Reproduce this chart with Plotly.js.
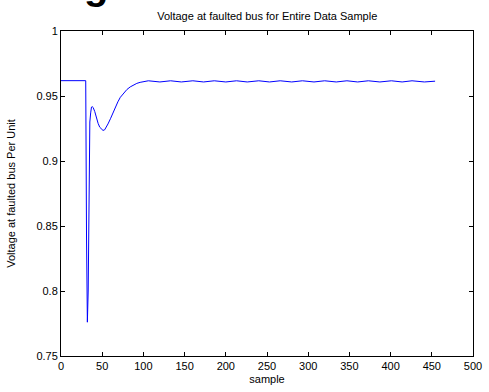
<!DOCTYPE html>
<html>
<head>
<meta charset="utf-8">
<script src="https://cdn.plot.ly/plotly-3.0.1.min.js"></script>
<style>html,body{margin:0;padding:0;background:#fff;}#chart{width:489px;height:392px;}</style>
</head>
<body>
<div id="chart"></div>
<script>
// sample index
const samples = [0, 30, 31, 32, 33, 34, 35, 36, 37, 38, 39, 41, 43, 45, 47, 49, 51, 53, 55, 57, 60, 63, 66, 69, 72, 76, 80, 84, 88, 92, 96, 100,
  106, 120, 133, 146, 160, 173, 186, 200, 213, 226, 240, 253, 266, 280, 293, 307, 320, 334, 347, 360, 373, 387, 401, 414, 426, 441, 454];
// voltage at faulted bus (per unit)
const voltage = [0.9618, 0.9618, 0.84, 0.776, 0.80, 0.90, 0.930, 0.937, 0.9415, 0.9418, 0.9412, 0.938, 0.933, 0.929, 0.926, 0.9243, 0.9235, 0.924, 0.9258, 0.9285, 0.9325, 0.937, 0.9415, 0.9455, 0.949, 0.952, 0.955, 0.957, 0.9585, 0.9597, 0.9605, 0.961,
  0.9617, 0.9608, 0.9617, 0.9608, 0.9617, 0.9608, 0.9617, 0.9608, 0.9617, 0.9608, 0.9617, 0.9608, 0.9617, 0.9608, 0.9617, 0.9608, 0.9617, 0.9608, 0.9617, 0.9608, 0.9617, 0.9608, 0.9617, 0.9608, 0.9617, 0.9608, 0.9614];
const xTicks = [0, 50, 100, 150, 200, 250, 300, 350, 400, 450, 500];
const yTicks = [0.75, 0.8, 0.85, 0.9, 0.95, 1];
const yTickText = ['0.75', '0.8', '0.85', '0.9', '0.95', '1'];

const font = {family: 'Liberation Sans, Arial, sans-serif', size: 11, color: '#000'};
const axisCommon = {
  showgrid: false, zeroline: false, showline: true, linecolor: '#000', linewidth: 1,
  mirror: 'allticks', ticks: 'inside', ticklen: 4, tickcolor: '#000', tickwidth: 1,
  tickfont: font
};
const layout = {
  width: 489, height: 392,
  margin: {l: 61, r: 16, t: 31, b: 36},
  paper_bgcolor: '#fff', plot_bgcolor: '#fff',
  showlegend: false,
  font: font,
  title: {text: 'Voltage at faulted bus for Entire Data Sample', font: {family: font.family, size: 11, color: '#000'},
          x: 0.5465, xanchor: 'center', y: 0.958, yanchor: 'middle'},
  xaxis: Object.assign({}, axisCommon, {range: [0, 500], tickvals: xTicks, ticktext: xTicks.map(String),
          title: {text: 'sample', font: font, standoff: 4}}),
  yaxis: Object.assign({}, axisCommon, {range: [0.75, 1], tickvals: yTicks, ticktext: yTickText,
          title: {text: 'Voltage at faulted bus Per Unit', font: font, standoff: 18}}),
  annotations: [{
    text: '<b>g</b>', xref: 'paper', yref: 'paper', x: 0.085, y: 1.068, xanchor: 'center', yanchor: 'bottom',
    showarrow: false, font: {family: 'Liberation Sans, Arial, sans-serif', size: 40, color: '#000'}
  }]
};
Plotly.newPlot('chart', [{
  x: samples, y: voltage, type: 'scatter', mode: 'lines',
  line: {color: '#0000ff', width: 1}
}], layout, {staticPlot: true, displayModeBar: false});
</script>
</body>
</html>
